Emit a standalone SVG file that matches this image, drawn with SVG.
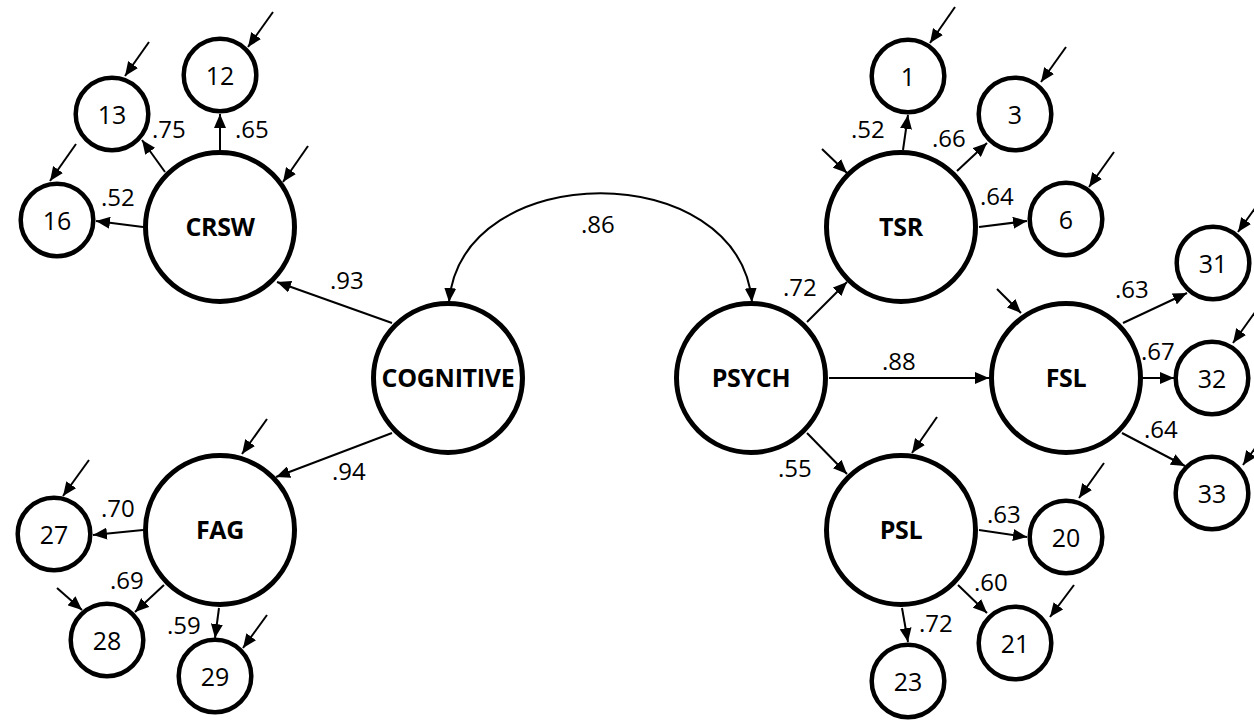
<svg xmlns="http://www.w3.org/2000/svg" width="1254" height="721" viewBox="0 0 1254 721">
<defs>
<marker id="ah" viewBox="0 0 14 12" refX="14" refY="6" markerWidth="14" markerHeight="12" markerUnits="userSpaceOnUse" orient="auto-start-reverse">
<path d="M0,0 L14,6 L0,12 z" fill="#000"/>
</marker>
<style>
.big{fill:#fff;stroke:#000;stroke-width:5}
.sm{fill:#fff;stroke:#000;stroke-width:4.5}
.bl{font-family:"Open Sans","Noto Sans",sans-serif;font-weight:bold;font-size:25px;text-anchor:middle;letter-spacing:-0.3px}
.nm{font-family:"Open Sans","Noto Sans",sans-serif;font-size:25px;text-anchor:middle}
.lb{font-family:"Open Sans","Noto Sans",sans-serif;font-size:24px}
.c line,.c path{stroke:#000;stroke-width:2;fill:none;marker-end:url(#ah)}
</style>
</defs>
<rect width="1254" height="721" fill="#fff"/>
<g class="c" id="connectors">
<line x1="392" y1="323" x2="277" y2="282"/>
<line x1="392" y1="433" x2="276" y2="477"/>
<line x1="220" y1="150" x2="220" y2="114"/>
<line x1="165" y1="172" x2="142" y2="140"/>
<line x1="143" y1="227" x2="96" y2="221"/>
<line x1="143" y1="530" x2="93" y2="535"/>
<line x1="164" y1="585" x2="135" y2="612"/>
<line x1="219" y1="608" x2="215" y2="638"/>
<path d="M449,302 C462,157 739,157 752,302" style="marker-start:url(#ah)"/>
<line x1="807" y1="322" x2="847" y2="282"/>
<line x1="829" y1="378" x2="989" y2="378"/>
<line x1="807" y1="433" x2="847" y2="474"/>
<line x1="903" y1="150" x2="908" y2="115"/>
<line x1="957" y1="171" x2="987" y2="143"/>
<line x1="979" y1="227" x2="1027" y2="221"/>
<line x1="1123" y1="323" x2="1187" y2="293"/>
<line x1="1143" y1="378" x2="1174" y2="378"/>
<line x1="1122" y1="433" x2="1185" y2="466"/>
<line x1="979" y1="530" x2="1027" y2="537"/>
<line x1="958" y1="585" x2="987" y2="613"/>
<line x1="902" y1="608" x2="908" y2="642"/>
<line x1="273" y1="12" x2="248" y2="47"/>
<line x1="149" y1="42" x2="125" y2="76"/>
<line x1="76" y1="144" x2="50" y2="181"/>
<line x1="308" y1="146" x2="283" y2="182"/>
<line x1="267" y1="419" x2="242" y2="454"/>
<line x1="89" y1="460" x2="63" y2="496"/>
<line x1="57" y1="588" x2="82" y2="610"/>
<line x1="267" y1="615" x2="243" y2="648"/>
<line x1="955" y1="7" x2="930" y2="43"/>
<line x1="1066" y1="47" x2="1041" y2="82"/>
<line x1="1114" y1="152" x2="1089" y2="187"/>
<line x1="822" y1="149" x2="847" y2="173"/>
<line x1="997" y1="289" x2="1021" y2="313"/>
<line x1="1263" y1="197" x2="1238" y2="232"/>
<line x1="1258" y1="308" x2="1233" y2="343"/>
<line x1="1268" y1="430" x2="1243" y2="465"/>
<line x1="937" y1="417" x2="912" y2="453"/>
<line x1="1104" y1="463" x2="1079" y2="498"/>
<line x1="1074" y1="585" x2="1050" y2="617"/>
</g>
<g id="labels" class="lb">
<text x="330" y="289">.93</text>
<text x="332" y="480">.94</text>
<text x="235" y="138">.65</text>
<text x="152" y="138">.75</text>
<text x="101" y="206">.52</text>
<text x="101" y="517">.70</text>
<text x="110" y="589">.69</text>
<text x="167" y="634">.59</text>
<text x="581" y="233">.86</text>
<text x="783" y="296">.72</text>
<text x="882" y="370">.88</text>
<text x="778" y="477">.55</text>
<text x="851" y="138">.52</text>
<text x="932" y="147">.66</text>
<text x="980" y="205">.64</text>
<text x="1115" y="298">.63</text>
<text x="1141" y="360">.67</text>
<text x="1144" y="438">.64</text>
<text x="987" y="523">.63</text>
<text x="974" y="591">.60</text>
<text x="919" y="632">.72</text>
</g>
<g id="CRSW"><circle class="big" cx="220" cy="227" r="74.5"/><text class="bl" x="220" y="236">CRSW</text></g>
<g id="FAG"><circle class="big" cx="220" cy="530" r="74.5"/><text class="bl" x="220" y="539">FAG</text></g>
<g id="COGNITIVE"><circle class="big" cx="448" cy="378" r="74.5"/><text class="bl" x="448" y="387">COGNITIVE</text></g>
<g id="PSYCH"><circle class="big" cx="751" cy="378" r="74.5"/><text class="bl" x="751" y="387">PSYCH</text></g>
<g id="TSR"><circle class="big" cx="901" cy="227" r="74.5"/><text class="bl" x="901" y="236">TSR</text></g>
<g id="FSL"><circle class="big" cx="1066" cy="378" r="74.5"/><text class="bl" x="1066" y="387">FSL</text></g>
<g id="PSL"><circle class="big" cx="901" cy="530" r="74.5"/><text class="bl" x="901" y="539">PSL</text></g>
<g id="n12"><circle class="sm" cx="220" cy="75" r="36.3"/><text class="nm" x="220" y="85">12</text></g>
<g id="n13"><circle class="sm" cx="112" cy="114" r="36.3"/><text class="nm" x="112" y="124">13</text></g>
<g id="n16"><circle class="sm" cx="57" cy="220" r="36.3"/><text class="nm" x="57" y="230">16</text></g>
<g id="n27"><circle class="sm" cx="54" cy="534" r="36.3"/><text class="nm" x="54" y="544">27</text></g>
<g id="n28"><circle class="sm" cx="107" cy="640" r="36.3"/><text class="nm" x="107" y="650">28</text></g>
<g id="n29"><circle class="sm" cx="215" cy="676" r="36.3"/><text class="nm" x="215" y="686">29</text></g>
<g id="n1"><circle class="sm" cx="908" cy="76" r="36.3"/><text class="nm" x="908" y="86">1</text></g>
<g id="n3"><circle class="sm" cx="1015" cy="114" r="36.3"/><text class="nm" x="1015" y="124">3</text></g>
<g id="n6"><circle class="sm" cx="1066" cy="219" r="36.3"/><text class="nm" x="1066" y="229">6</text></g>
<g id="n31"><circle class="sm" cx="1213" cy="263" r="36.3"/><text class="nm" x="1213" y="273">31</text></g>
<g id="n32"><circle class="sm" cx="1212" cy="378" r="36.3"/><text class="nm" x="1212" y="388">32</text></g>
<g id="n33"><circle class="sm" cx="1212" cy="493" r="36.3"/><text class="nm" x="1212" y="503">33</text></g>
<g id="n20"><circle class="sm" cx="1066" cy="537" r="36.3"/><text class="nm" x="1066" y="547">20</text></g>
<g id="n21"><circle class="sm" cx="1015" cy="643" r="36.3"/><text class="nm" x="1015" y="653">21</text></g>
<g id="n23"><circle class="sm" cx="908" cy="681" r="36.3"/><text class="nm" x="908" y="691">23</text></g>
</svg>
